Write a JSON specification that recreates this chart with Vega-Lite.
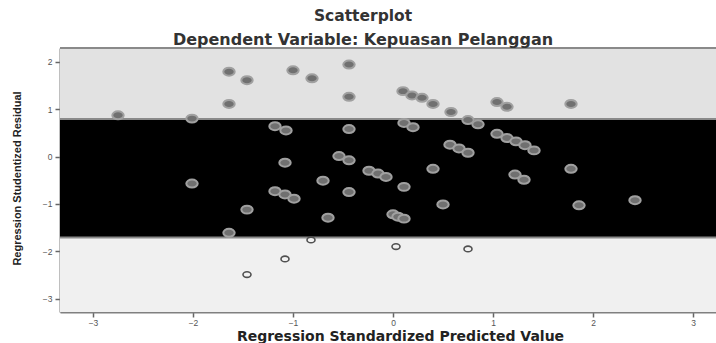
{
  "$schema": "https://vega.github.io/schema/vega-lite/v6.json",
  "width": 656,
  "height": 264,
  "autosize": {"type": "none"},
  "padding": {"left": 60, "top": 48, "right": 0, "bottom": 31},
  "background": "white",
  "title": {
    "text": "Scatterplot",
    "subtitle": "Dependent Variable: Kepuasan Pelanggan",
    "anchor": "middle",
    "dx": -25,
    "dy": 2,
    "offset": 1,
    "font": "DejaVu Sans",
    "fontSize": 15.5,
    "fontWeight": "bold",
    "color": "#333333",
    "subtitleFont": "DejaVu Sans",
    "subtitleFontSize": 16,
    "subtitleFontWeight": "bold",
    "subtitleColor": "#333333",
    "subtitlePadding": 8
  },
  "config": {
    "view": {"stroke": null},
    "axis": {
      "grid": false,
      "domainColor": "#808080",
      "domainWidth": 2,
      "tickColor": "#666666",
      "tickSize": 5,
      "tickWidth": 1.5,
      "labelFont": "Liberation Sans",
      "labelFontSize": 8.5,
      "labelColor": "#555555",
      "titleColor": "#222222",
      "titleFontWeight": "bold"
    }
  },
  "datasets": {
    "bands": [
      {"zone": "upper", "lo": 0.79, "hi": 2.29},
      {"zone": "mid", "lo": -1.71, "hi": 0.79},
      {"zone": "lower", "lo": -3.28, "hi": -1.71}
    ],
    "points": [
      {"x": -2.75, "y": 0.87}, {"x": -2.01, "y": 0.80}, {"x": -1.64, "y": 1.79},
      {"x": -1.46, "y": 1.61}, {"x": -1.64, "y": 1.11}, {"x": -1.00, "y": 1.82},
      {"x": -0.81, "y": 1.65}, {"x": -0.44, "y": 1.94}, {"x": -0.44, "y": 1.26},
      {"x": 0.10, "y": 1.38}, {"x": 0.19, "y": 1.29}, {"x": 0.29, "y": 1.24},
      {"x": 0.40, "y": 1.11}, {"x": 0.58, "y": 0.94}, {"x": 1.04, "y": 1.15},
      {"x": 1.14, "y": 1.05}, {"x": 1.78, "y": 1.11},
      {"x": -1.18, "y": 0.64}, {"x": -1.07, "y": 0.55}, {"x": -0.44, "y": 0.58},
      {"x": 0.11, "y": 0.71}, {"x": 0.20, "y": 0.62}, {"x": 0.75, "y": 0.77},
      {"x": 0.85, "y": 0.68}, {"x": 1.04, "y": 0.48}, {"x": 1.14, "y": 0.39},
      {"x": 1.23, "y": 0.32}, {"x": 1.32, "y": 0.24}, {"x": 1.41, "y": 0.13},
      {"x": 0.57, "y": 0.25}, {"x": 0.66, "y": 0.17}, {"x": 0.75, "y": 0.08},
      {"x": -1.08, "y": -0.13}, {"x": -0.54, "y": 0.01}, {"x": -0.44, "y": -0.08},
      {"x": -0.24, "y": -0.30}, {"x": -0.15, "y": -0.36}, {"x": -0.07, "y": -0.43},
      {"x": 0.40, "y": -0.26}, {"x": 1.78, "y": -0.26}, {"x": 1.22, "y": -0.38},
      {"x": 1.31, "y": -0.49}, {"x": -2.01, "y": -0.57}, {"x": -0.70, "y": -0.51},
      {"x": 0.11, "y": -0.64}, {"x": -0.44, "y": -0.75}, {"x": -1.18, "y": -0.73},
      {"x": -1.08, "y": -0.80}, {"x": -0.99, "y": -0.89}, {"x": 0.50, "y": -1.01},
      {"x": 1.86, "y": -1.03}, {"x": 2.42, "y": -0.92}, {"x": -1.46, "y": -1.12},
      {"x": -0.65, "y": -1.29}, {"x": 0.00, "y": -1.22}, {"x": 0.05, "y": -1.27},
      {"x": 0.11, "y": -1.31}, {"x": -1.64, "y": -1.61},
      {"x": -0.82, "y": -1.76}, {"x": -1.08, "y": -2.16}, {"x": -1.46, "y": -2.49},
      {"x": 0.03, "y": -1.90}, {"x": 0.75, "y": -1.95}
    ]
  },
  "layer": [
    {
      "data": {"name": "bands"},
      "mark": {"type": "rect"},
      "encoding": {
        "y": {"field": "lo", "type": "quantitative", "scale": {"domain": [-3.28, 2.29], "nice": false, "zero": false},
              "axis": {"values": [-3, -2, -1, 0, 1, 2], "format": "d", "title": "Regression Studentized Residual", "titleFont": "Liberation Sans", "titleFontSize": 11, "titleX": -43, "titleY": 130, "titleAngle": -90, "titleAlign": "center", "titleBaseline": "middle", "labelPadding": 3}},
        "y2": {"field": "hi"},
        "fill": {"field": "zone", "type": "nominal", "legend": null,
                 "scale": {"domain": ["upper", "mid", "lower"], "range": ["#e2e2e2", "#000000", "#f0f0f0"]}}
      }
    },
    {
      "data": {"name": "bands"},
      "mark": {"type": "rule", "color": "#8a8a8a", "strokeWidth": 2},
      "encoding": {
        "y": {"field": "hi", "type": "quantitative"}
      }
    },
    {
      "data": {"name": "points"},
      "transform": [{"filter": "datum.y >= -1.72"}],
      "mark": {"type": "point", "shape": "M-1,0A1,0.7,0,1,1,1,0A1,0.7,0,1,1,-1,0Z", "size": 130, "filled": true, "fill": "#707070", "stroke": "#a0a0a0", "strokeWidth": 2, "opacity": 1},
      "encoding": {
        "x": {"field": "x", "type": "quantitative", "scale": {"domain": [-3.33, 3.23], "nice": false, "zero": false},
              "axis": {"values": [-3, -2, -1, 0, 1, 2, 3], "format": "d", "title": "Regression Standardized Predicted Value", "titleFont": "DejaVu Sans", "titleFontSize": 14, "titleX": 340, "titleY": 24, "titleAlign": "center", "titleBaseline": "middle", "labelPadding": 1}},
        "y": {"field": "y", "type": "quantitative"}
      }
    },
    {
      "data": {"name": "points"},
      "transform": [{"filter": "datum.y < -1.72"}],
      "mark": {"type": "point", "shape": "M-1,0A1,0.7,0,1,1,1,0A1,0.7,0,1,1,-1,0Z", "size": 64, "filled": false, "fill": "#f2f2f2", "stroke": "#505050", "strokeWidth": 1.6, "opacity": 1},
      "encoding": {
        "x": {"field": "x", "type": "quantitative"},
        "y": {"field": "y", "type": "quantitative"}
      }
    }
  ]
}
